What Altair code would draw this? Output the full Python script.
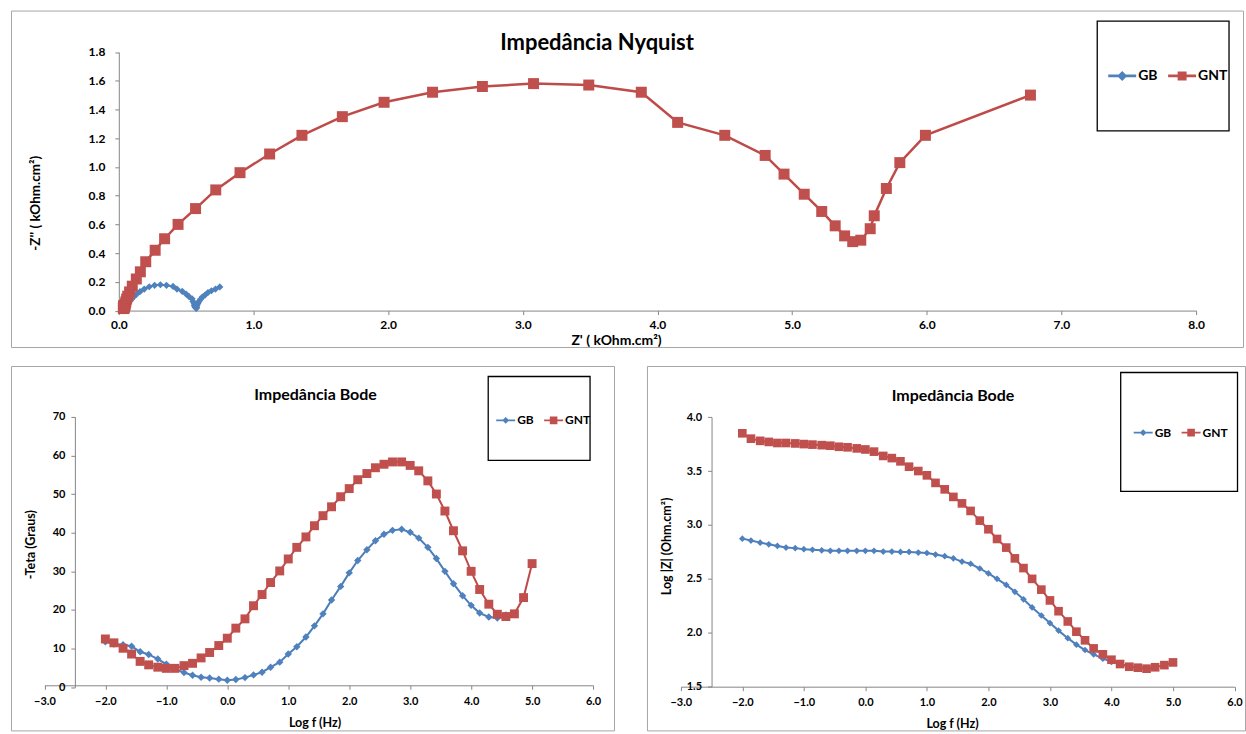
import altair as alt
import pandas as pd

# ---------------- data ----------------
series_names = ["GB", "GNT"]

# Nyquist (kOhm.cm2), ordered from low to high frequency
nyq_gb_zr = [0.750, 0.718, 0.688, 0.662, 0.640, 0.620, 0.607, 0.595, 0.587, 0.581, 0.575, 0.574,
             0.574, 0.575, 0.575, 0.575, 0.566, 0.565, 0.561, 0.560, 0.551, 0.544, 0.522, 0.500,
             0.471, 0.432, 0.403, 0.354, 0.309, 0.266, 0.226, 0.189, 0.157, 0.131, 0.110, 0.094,
             0.082, 0.072, 0.065, 0.060, 0.056, 0.053, 0.050, 0.048, 0.047, 0.046, 0.045]
nyq_gb_zi = [0.165, 0.150, 0.138, 0.126, 0.108, 0.094, 0.079, 0.063, 0.049, 0.039, 0.031, 0.026,
             0.022, 0.019, 0.016, 0.019, 0.025, 0.032, 0.038, 0.051, 0.063, 0.082, 0.097, 0.115,
             0.134, 0.150, 0.168, 0.176, 0.180, 0.176, 0.166, 0.150, 0.132, 0.113, 0.095, 0.079,
             0.065, 0.053, 0.043, 0.035, 0.028, 0.023, 0.019, 0.017, 0.015, 0.015, 0.015]
nyq_gnt_zr = [6.77, 5.99, 5.80, 5.70, 5.61, 5.58, 5.51, 5.45, 5.39, 5.32,
              5.22, 5.09, 4.94, 4.80, 4.50, 4.15, 3.88, 3.49, 3.08, 2.70,
              2.33, 1.97, 1.66, 1.36, 1.12, 0.90, 0.72, 0.57, 0.44, 0.34,
              0.27, 0.20, 0.16, 0.13, 0.10, 0.08, 0.066, 0.058, 0.052, 0.048,
              0.045, 0.042, 0.040, 0.038, 0.036, 0.035, 0.034, 0.034, 0.035, 0.036]
nyq_gnt_zi = [1.50, 1.22, 1.03, 0.85, 0.66, 0.57, 0.49, 0.48, 0.52, 0.59,
              0.69, 0.81, 0.95, 1.08, 1.22, 1.31, 1.52, 1.57, 1.58, 1.56,
              1.52, 1.45, 1.35, 1.22, 1.09, 0.96, 0.84, 0.71, 0.60, 0.50,
              0.42, 0.34, 0.27, 0.22, 0.17, 0.13, 0.10, 0.08, 0.06, 0.045,
              0.035, 0.027, 0.021, 0.017, 0.015, 0.014, 0.015, 0.020, 0.028, 0.035]

# Bode
log_f = [-2.0, -1.86, -1.71, -1.57, -1.43, -1.29, -1.14, -1.0, -0.86, -0.71,
         -0.57, -0.43, -0.29, -0.14, 0.0, 0.14, 0.29, 0.43, 0.57, 0.71,
         0.86, 1.0, 1.14, 1.29, 1.43, 1.57, 1.71, 1.86, 2.0, 2.14,
         2.29, 2.43, 2.57, 2.71, 2.86, 3.0, 3.14, 3.29, 3.43, 3.57,
         3.71, 3.86, 4.0, 4.14, 4.29, 4.43, 4.57, 4.71, 4.86, 5.0]
theta_gb = [11.8, 11.2, 11.0, 10.6, 9.2, 8.5, 7.3, 6.0, 4.8, 3.8,
            3.1, 2.6, 2.4, 2.1, 1.8, 2.0, 2.5, 3.2, 3.9, 5.2,
            6.5, 8.6, 10.5, 13.0, 15.9, 19.0, 22.6, 26.1, 29.6, 32.8,
            35.6, 37.9, 39.6, 40.6, 40.9, 40.1, 38.6, 36.2, 33.3, 30.0,
            26.8, 23.7, 21.2, 19.2, 18.2, 17.9, 18.7]
theta_gnt = [12.5, 11.5, 10.1, 8.6, 6.7, 5.8, 5.2, 4.9, 4.9, 5.6,
             6.2, 7.6, 9.0, 10.8, 12.7, 15.3, 17.7, 21.1, 24.0, 27.1,
             30.1, 33.2, 36.2, 38.9, 41.8, 44.4, 46.7, 49.3, 51.4, 53.7,
             55.3, 56.8, 57.7, 58.3, 58.3, 57.4, 56.0, 53.4, 50.0, 45.6,
             40.5, 35.3, 30.0, 25.3, 21.5, 18.9, 18.3, 19.0, 23.2, 32.0]
logz_gb = [2.873, 2.855, 2.836, 2.82, 2.805, 2.79, 2.785, 2.775, 2.77, 2.765,
           2.76, 2.76, 2.76, 2.76, 2.76, 2.76, 2.753, 2.753, 2.75, 2.75,
           2.744, 2.74, 2.725, 2.71, 2.69, 2.66, 2.64, 2.596, 2.55, 2.50,
           2.444, 2.38, 2.31, 2.235, 2.16, 2.09, 2.02, 1.95, 1.89, 1.84,
           1.80, 1.76, 1.73, 1.71, 1.69, 1.68, 1.67]
logz_gnt = [3.85, 3.80, 3.78, 3.77, 3.76, 3.76, 3.756, 3.75, 3.745, 3.74,
            3.735, 3.725, 3.72, 3.71, 3.70, 3.68, 3.64, 3.62, 3.59, 3.54,
            3.50, 3.46, 3.39, 3.33, 3.26, 3.20, 3.13, 3.04, 2.96, 2.87,
            2.79, 2.69, 2.60, 2.50, 2.40, 2.30, 2.20, 2.105, 2.01, 1.93,
            1.855, 1.80, 1.75, 1.71, 1.685, 1.676, 1.667, 1.68, 1.70, 1.725]

nyq_x_ticks = [0, 1, 2, 3, 4, 5, 6, 7, 8]
nyq_y_ticks = [0, 0.2, 0.4, 0.6, 0.8, 1.0, 1.2, 1.4, 1.6, 1.8]
bode_x_ticks = [-3, -2, -1, 0, 1, 2, 3, 4, 5, 6]
theta_y_ticks = [0, 10, 20, 30, 40, 50, 60, 70]
logz_y_ticks = [1.5, 2.0, 2.5, 3.0, 3.5, 4.0]

# ---------------- styles ----------------
FONT = "Lato"
GB_LINE, GB_PT = "#4A7EBB", "#4F81BD"
GNT_LINE, GNT_PT = "#BE4B48", "#C0504D"
FRAME = "#A6A6A6"
AXIS = "#868686"


def frame_df(gb_x, gb_y, gnt_x, gnt_y):
    a = pd.DataFrame({"x": gb_x, "y": gb_y, "series": "GB", "i": list(range(len(gb_x)))})
    b = pd.DataFrame({"x": gnt_x, "y": gnt_y, "series": "GNT", "i": list(range(len(gnt_x)))})
    return pd.concat([a, b], ignore_index=True)


def legend_paths(sq):
    bar = "M-1,-0.1H1V0.1H-1Z"
    gb = bar + "M0,-0.36L0.36,0L0,0.36L-0.36,0Z"
    gnt = bar + "M-{s},-{s}H{s}V{s}H-{s}Z".format(s=sq)
    return [gb, gnt]


def make_axis(values, fmt, title, label_size, label_pad, title_size, tx, ty, offset):
    return alt.Axis(values=values, format=fmt, grid=False, domainColor=AXIS, tickColor=AXIS,
                    tickSize=4, labelFont=FONT, labelFontSize=label_size, labelFontWeight="bold",
                    labelColor="black", labelPadding=label_pad, labelFlush=False, labelOverlap=False,
                    title=title, titleFont=FONT, titleFontSize=title_size, titleFontWeight="bold",
                    titleColor="black", titleX=tx, titleY=ty, titleBaseline="middle",
                    titleAlign="center", offset=offset)


def panel(df, x_enc, y_enc, w, h, pt_sizes, line_w, leg, lbox, title):
    base = alt.Chart(df)
    deco = alt.Chart(pd.DataFrame({"k": [0]}))
    layers = [
        deco.mark_rect(filled=False, color="black", strokeWidth=1.3).encode(
            x=alt.value(lbox[0]), x2=alt.value(lbox[1]), y=alt.value(lbox[2]), y2=alt.value(lbox[3])),
        deco.mark_text(text=title[0], font=FONT, fontSize=title[1], fontWeight="bold",
                       align="center", baseline="middle", color="black").encode(
            x=alt.value(title[2]), y=alt.value(title[3])),
    ]
    specs = [("GB", GB_LINE, GB_PT, "diamond", pt_sizes[0], line_w[0]),
             ("GNT", GNT_LINE, GNT_PT, "square", pt_sizes[1], line_w[1])]
    for name, lc, pc, shp, sz, sw in specs:
        sub = base.transform_filter(alt.datum.series == name)
        layers.append(sub.mark_line(color=lc, strokeWidth=sw).encode(x=x_enc, y=y_enc, order="i:Q"))
        layers.append(sub.mark_point(shape=shp, filled=True, color=pc, size=sz, opacity=1).encode(
            x=x_enc, y=y_enc))
    legend = alt.Legend(orient="none", legendX=leg[0], legendY=leg[1], direction="horizontal",
                        title=None, padding=0, labelFont=FONT, labelFontSize=leg[3],
                        labelFontWeight="bold", labelColor="black", symbolSize=leg[2],
                        labelOffset=2, columnPadding=10, symbolStrokeWidth=0)
    layers.append(base.transform_filter("false").mark_point(filled=True, size=leg[2], opacity=1).encode(
        x=x_enc, y=y_enc,
        color=alt.Color("series:N", scale=alt.Scale(domain=series_names, range=[GB_PT, GNT_PT]), legend=legend),
        shape=alt.Shape("series:N", scale=alt.Scale(domain=series_names, range=legend_paths(leg[4])), legend=legend),
    ))
    return alt.layer(*layers).properties(width=w, height=h)


# Each panel's view is its whole framed box; the plot region is set by the scale ranges.

# ---------------- Nyquist ----------------
nyq_df = frame_df(nyq_gb_zr, nyq_gb_zi, nyq_gnt_zr, nyq_gnt_zi)
nx = alt.X("x:Q", scale=alt.Scale(domain=[0, 8], nice=False, zero=False, range=[108, 1187]),
           axis=make_axis(nyq_x_ticks, ".1f", "Z' ( kOhm.cm²)", 12, 5, 14, 606, 29.5, -36.5))
ny = alt.Y("y:Q", scale=alt.Scale(domain=[0, 1.8], nice=False, zero=False, range=[300.5, 41.5]),
           axis=make_axis(nyq_y_ticks, ".1f", "-Z'' ( kOhm.cm²)", 12, 10, 13.5, -83, 192.5, -108))
top = panel(nyq_df, nx, ny, 1234, 337, (52, 121), (2, 2.5),
            (1099, 51.5, 784, 14, 0.32), (1088, 1220, 10.5, 120.5),
            ("Impedância Nyquist", 22, 587, 32.5))

# ---------------- Bode theta ----------------
th_df = frame_df(log_f[:len(theta_gb)], theta_gb, log_f, theta_gnt)
tx = alt.X("x:Q", scale=alt.Scale(domain=[-3, 6], nice=False, zero=False, range=[33.5, 583]),
           axis=make_axis(bode_x_ticks, ".1f", "Log f (Hz)", 11, 6, 12.5, 304, 37, -45.2))
ty = alt.Y("y:Q", scale=alt.Scale(domain=[0, 70], nice=False, zero=False, range=[321.8, 50.8]),
           axis=make_axis(theta_y_ticks, "d", "-Teta (Graus)", 11, 6, 12.5, -44.4, 178.5, -64))
bl = panel(th_df, tx, ty, 604, 365, (55, 80), (2, 2),
           (486, 44.7, 361, 12, 0.4), (478, 580, 10.5, 94.5),
           ("Impedância Bode", 16, 305, 29.5))

# ---------------- Bode |Z| ----------------
lz_df = frame_df(log_f[:len(logz_gb)], logz_gb, log_f, logz_gnt)
zx = alt.X("x:Q", scale=alt.Scale(domain=[-3, 6], nice=False, zero=False, range=[33.9, 588.5]),
           axis=make_axis(bode_x_ticks, ".1f", "Log f (Hz)", 11, 6, 12.5, 305.5, 37, -43.8))
zy = alt.Y("y:Q", scale=alt.Scale(domain=[1.5, 4.0], nice=False, zero=False, range=[321.2, 51.2]),
           axis=make_axis(logz_y_ticks, ".1f", "Log |Z|  (Ohm.cm²)", 11, 6, 12.5, -45.2, 180.2, -64.7))
br = panel(lz_df, zx, zy, 599, 365, (45, 75), (2, 2),
           (487.5, 57, 361, 12, 0.4), (474.5, 591.5, 6.5, 125.5),
           ("Impedância Bode", 16, 306.5, 30.2))

bottom = alt.hconcat(bl, br, spacing=31).resolve_scale(color="independent", shape="independent")
chart = (
    alt.vconcat(top, bottom, spacing=17)
    .resolve_scale(color="independent", shape="independent")
    .configure_view(stroke=FRAME, strokeWidth=1)
    .properties(padding={"left": 10, "top": 9, "right": 0, "bottom": 0}, background="white")
)

chart.save("out.html", embed_options={"renderer": "svg", "actions": False})
